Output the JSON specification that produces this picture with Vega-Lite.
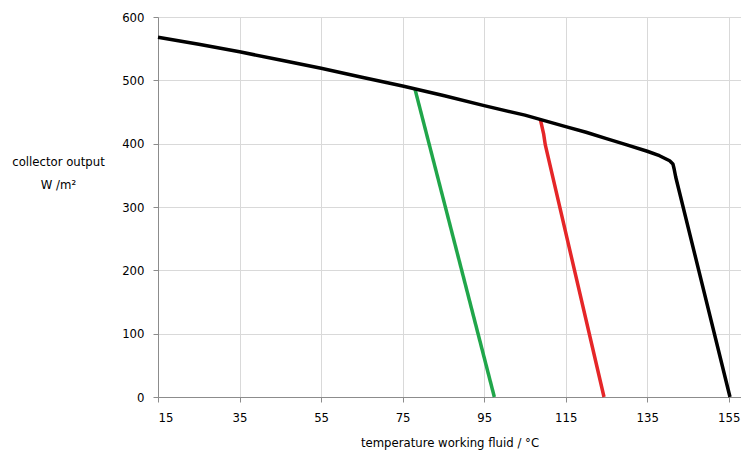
{
  "$schema": "https://vega.github.io/schema/vega-lite/v6.json",
  "autosize": "none",
  "width": 583,
  "height": 380,
  "padding": {"left": 158, "top": 17, "right": 0, "bottom": 61},
  "background": "white",
  "config": {
    "font": "DejaVu Sans Condensed, Liberation Sans, sans-serif",
    "view": {"stroke": null},
    "axis": {
      "labelFont": "DejaVu Sans Condensed, Liberation Sans, sans-serif",
      "titleFont": "DejaVu Sans Condensed, Liberation Sans, sans-serif",
      "labelFontSize": 13,
      "titleFontSize": 13,
      "labelColor": "#000",
      "titleColor": "#000",
      "titleFontWeight": "normal",
      "domainColor": "#8c8c8c",
      "tickColor": "#8c8c8c",
      "gridColor": "#d9d9d9",
      "gridWidth": 1
    }
  },
  "data": {
    "values": [
      {"s": "green", "o": 1, "x": 78, "y": 487},
      {"s": "green", "o": 2, "x": 97.5, "y": 0},
      {"s": "red", "o": 1, "x": 108.8, "y": 438},
      {"s": "red", "o": 2, "x": 109.6, "y": 415},
      {"s": "red", "o": 3, "x": 110, "y": 398},
      {"s": "red", "o": 4, "x": 124.4, "y": 0},
      {"s": "black", "o": 1, "x": 15, "y": 568},
      {"s": "black", "o": 2, "x": 25, "y": 557},
      {"s": "black", "o": 3, "x": 35, "y": 545},
      {"s": "black", "o": 4, "x": 45, "y": 532},
      {"s": "black", "o": 5, "x": 55, "y": 519},
      {"s": "black", "o": 6, "x": 65, "y": 505},
      {"s": "black", "o": 7, "x": 75, "y": 491},
      {"s": "black", "o": 8, "x": 85, "y": 476},
      {"s": "black", "o": 9, "x": 95, "y": 460},
      {"s": "black", "o": 10, "x": 105, "y": 445},
      {"s": "black", "o": 11, "x": 110, "y": 436},
      {"s": "black", "o": 12, "x": 115, "y": 427},
      {"s": "black", "o": 13, "x": 120, "y": 418},
      {"s": "black", "o": 14, "x": 125, "y": 408},
      {"s": "black", "o": 15, "x": 130, "y": 398},
      {"s": "black", "o": 16, "x": 135, "y": 388},
      {"s": "black", "o": 17, "x": 138, "y": 381},
      {"s": "black", "o": 18, "x": 140.5, "y": 373},
      {"s": "black", "o": 19, "x": 141.3, "y": 368},
      {"s": "black", "o": 20, "x": 141.6, "y": 360},
      {"s": "black", "o": 21, "x": 142, "y": 347},
      {"s": "black", "o": 22, "x": 155.3, "y": 0}
    ]
  },
  "mark": {"type": "line", "strokeWidth": 3.5, "strokeJoin": "round", "clip": false},
  "encoding": {
    "x": {
      "field": "x", "type": "quantitative",
      "scale": {"domain": [15, 158], "nice": false, "zero": false},
      "axis": {
        "values": [15, 35, 55, 75, 95, 115, 135, 155],
        "title": "temperature working fluid / °C",
        "labelPadding": 9,
        "titlePadding": 12,
        "tickSize": 5
      }
    },
    "y": {
      "field": "y", "type": "quantitative",
      "scale": {"domain": [0, 600], "nice": false},
      "axis": {
        "values": [0, 100, 200, 300, 400, 500, 600],
        "title": ["collector output", "W /m²"],
        "titleAngle": 0,
        "titleAlign": "center",
        "titleBaseline": "alphabetic",
        "titleX": -100,
        "titleY": 148,
        "titleLineHeight": 23,
        "labelPadding": 9,
        "tickSize": 5
      }
    },
    "color": {
      "field": "s", "type": "nominal",
      "scale": {"domain": ["green", "red", "black"], "range": ["#20a64a", "#e52628", "#000000"]},
      "legend": null
    },
    "order": {"field": "o", "type": "quantitative"},
    "detail": {"field": "s"}
  }
}
